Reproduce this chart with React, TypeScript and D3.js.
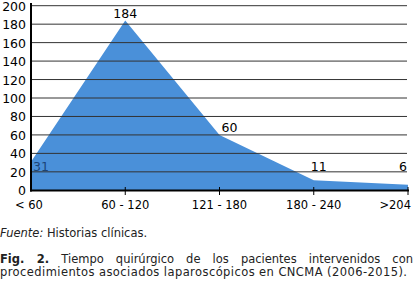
import React, { useLayoutEffect, useRef } from "react";
import * as d3 from "d3";

const categories = ["< 60", "60 - 120", "121 - 180", "180 - 240", ">204"];
const values = [31, 184, 60, 11, 6];
const yTicks = [0, 20, 40, 60, 80, 100, 120, 140, 160, 180, 200];
const sourceLabel = "Fuente:";
const sourceText = " Historias clínicas.";
const captionBold = "Fig. 2.";
const captionLine1 = " Tiempo quirúrgico de los pacientes intervenidos con";
const captionLine2 = "procedimientos asociados laparoscópicos en CNCMA (2006-2015).";

const W = 419;
const H = 287;
const FONT = "'DejaVu Sans', Verdana, sans-serif";

// label placement relative to each point: [dx, dy, anchor, color]
const labelPlacement: [number, number, string, string][] = [
  [2, 9.5, "start", "#1c4476"],
  [0, -2.5, "middle", "#000"],
  [2, -3, "start", "#000"],
  [-3, -9, "start", "#000"],
  [-1, -14, "end", "#000"],
];

export default function App() {
  const line1Ref = useRef<SVGTextElement>(null);

  const x = d3.scalePoint<string>().domain(categories).range([31, 408]);
  const y = d3.scaleLinear().domain([0, 200]).range([190.3, 5.7]);

  const area = d3
    .area<number>()
    .x((_, i) => x(categories[i]) as number)
    .y0(y(0))
    .y1((d) => y(d));

  useLayoutEffect(() => {
    const el = line1Ref.current;
    if (!el) return;
    el.setAttribute("word-spacing", "0");
    const len = el.getComputedTextLength();
    const target = 413;
    const text = captionBold + captionLine1;
    const spaces = (text.match(/ /g) || []).length;
    const extra = (target - len) / spaces;
    el.setAttribute("word-spacing", String(extra));
  }, []);

  return (
    <svg
      width={W}
      height={H}
      style={{ position: "absolute", left: 0, top: 0, background: "#fff" }}
      fontFamily={FONT}
    >
      <path d={area(values) || ""} fill="#4a90d9" />
      {yTicks
        .filter((t) => t > 0)
        .map((t) => (
          <line key={t} x1={31} x2={407} y1={y(t)} y2={y(t)} stroke="#333" strokeWidth={1} />
        ))}
      {yTicks.map((t) => (
        <text key={t} x={26} y={y(t) + 5} textAnchor="end" fontSize={12.5} fill="#000">
          {t}
        </text>
      ))}
      <line x1={31} x2={31} y1={3} y2={191.5} stroke="#000" strokeWidth={2} />
      <line x1={30} x2={409} y1={190.5} y2={190.5} stroke="#000" strokeWidth={2} />
      {categories.slice(1).map((c) => (
        <line key={c} x1={x(c)} x2={x(c)} y1={187} y2={195} stroke="#000" strokeWidth={1} />
      ))}
      {categories.map((c, i) => {
        const px = x(c) as number;
        const anchor = i === 0 ? "start" : i === categories.length - 1 ? "end" : "middle";
        const tx = i === 0 ? 15 : i === categories.length - 1 ? 411 : px;
        return (
          <text key={c} x={tx} y={209} textAnchor={anchor} fontSize={11.5} fill="#000">
            {c}
          </text>
        );
      })}
      {values.map((v, i) => {
        const [dx, dy, anchor, color] = labelPlacement[i];
        return (
          <text
            key={i}
            x={(x(categories[i]) as number) + dx}
            y={y(v) + dy}
            textAnchor={anchor}
            fontSize={12.5}
            fill={color}
          >
            {v}
          </text>
        );
      })}
      <text x={0} y={237} fontSize={11.5} fill="#222">
        <tspan fontStyle="italic">{sourceLabel}</tspan>
        <tspan>{sourceText}</tspan>
      </text>
      <text ref={line1Ref} x={0} y={262.5} fontSize={11.5} fill="#222">
        <tspan fontWeight="bold">{captionBold}</tspan>
        <tspan>{captionLine1}</tspan>
      </text>
      <text x={0} y={276} fontSize={11.5} fill="#222" textLength={407} lengthAdjust="spacing">
        {captionLine2}
      </text>
    </svg>
  );
}
